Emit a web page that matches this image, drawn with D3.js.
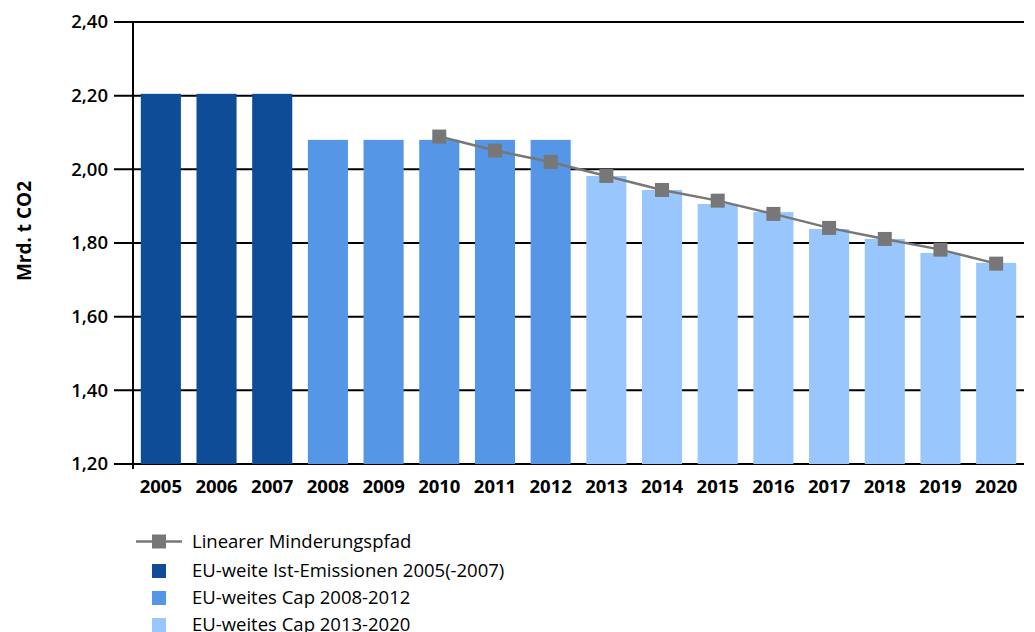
<!DOCTYPE html>
<html><head><meta charset="utf-8">
<script src="https://cdn.jsdelivr.net/npm/d3@7"></script>
<style>body{margin:0;background:#fff;} text{font-family:"Open Sans",sans-serif;}</style>
</head><body><svg id="c" width="1035" height="632"></svg>
<script>
const years = ["2005","2006","2007","2008","2009","2010","2011","2012","2013","2014","2015","2016","2017","2018","2019","2020"];
const barValues = [2.205,2.205,2.205,2.08,2.08,2.08,2.08,2.08,1.982,1.944,1.906,1.884,1.838,1.811,1.773,1.746];
const barGroup = [0,0,0,1,1,1,1,1,2,2,2,2,2,2,2,2];
const lineYears = ["2010","2011","2012","2013","2014","2015","2016","2017","2018","2019","2020"];
const lineValues = [2.089,2.051,2.020,1.982,1.944,1.915,1.879,1.841,1.811,1.782,1.744];
const yTicks = [1.2,1.4,1.6,1.8,2.0,2.2,2.4];
const legendLabels = ["Linearer Minderungspfad","EU-weite Ist-Emissionen 2005(-2007)","EU-weites Cap 2008-2012","EU-weites Cap 2013-2020"];
const colors = ["#0f4c97","#5596e6","#99c7fd"];
const lineColor = "#777777";

const svg = d3.select("#c");
const L = 133, R = 1024, T = 22, B = 464;
const x = d3.scaleBand().domain(years).range([L, R]).paddingInner(0.28).paddingOuter(0.14);
const y = d3.scaleLinear().domain([1.2, 2.4]).range([B, T]);

// gridlines
svg.append("g").selectAll("line").data(yTicks).join("line")
  .attr("x1", 114).attr("x2", R).attr("y1", d=>y(d)).attr("y2", d=>y(d))
  .attr("stroke", "#000").attr("stroke-width", 2);

// bars
svg.append("g").selectAll("rect").data(years).join("rect")
  .attr("x", d=>x(d)).attr("width", x.bandwidth())
  .attr("y", (d,i)=>y(barValues[i])).attr("height", (d,i)=>B - y(barValues[i]))
  .attr("fill", (d,i)=>colors[barGroup[i]]);

// y axis
const yAxis = d3.axisLeft(y).tickValues(yTicks).tickSize(0).tickPadding(25)
  .tickFormat(d=>d3.format(".2f")(d).replace(".", ","));
const gy = svg.append("g").attr("transform", `translate(${L},0)`).call(yAxis);
gy.select(".domain").remove();
gy.selectAll("text").attr("font-size", 18.5).attr("font-weight", 600).attr("fill", "#000");
svg.append("line").attr("x1", L).attr("x2", L).attr("y1", T).attr("y2", B + 5)
  .attr("stroke", "#000").attr("stroke-width", 2);

// x axis
const gx = svg.append("g").attr("transform", `translate(0,${B})`).call(d3.axisBottom(x).tickSize(0).tickPadding(16));
gx.select(".domain").remove();
gx.selectAll("text").attr("font-size", 18.5).attr("font-weight", 700).attr("fill", "#000");

// y label
svg.append("text").attr("transform", `translate(31,${(T+B)/2 - 12}) rotate(-90)`)
  .attr("text-anchor", "middle").attr("font-size", 19).attr("font-weight", 700).text("Mrd. t CO2");

// line
const cx = d => x(d) + x.bandwidth()/2;
const line = d3.line().x((d,i)=>cx(lineYears[i])).y(d=>y(d));
svg.append("path").datum(lineValues).attr("d", line).attr("fill", "none")
  .attr("stroke", lineColor).attr("stroke-width", 2.5);
const ms = 14;
svg.append("g").selectAll("rect").data(lineValues).join("rect")
  .attr("x", (d,i)=>cx(lineYears[i]) - ms/2).attr("y", d=>y(d) - ms/2)
  .attr("width", ms).attr("height", ms).attr("fill", lineColor);

// legend
const lg = svg.append("g");
const rows = [548, 577, 604, 631];
lg.append("line").attr("x1", 136).attr("x2", 182).attr("y1", rows[0]-6.5).attr("y2", rows[0]-6.5)
  .attr("stroke", lineColor).attr("stroke-width", 2.5);
lg.append("rect").attr("x", 152).attr("y", rows[0]-13.5).attr("width", ms).attr("height", ms).attr("fill", lineColor);
for (let k = 0; k < 3; k++) {
  lg.append("rect").attr("x", 152).attr("y", rows[k+1]-13).attr("width", 14).attr("height", 14).attr("fill", colors[k]);
}
lg.selectAll("text").data(legendLabels).join("text")
  .attr("x", 192).attr("y", (d,i)=>rows[i]).attr("font-size", 18.5).attr("fill", "#000").text(d=>d);
</script></body></html>
